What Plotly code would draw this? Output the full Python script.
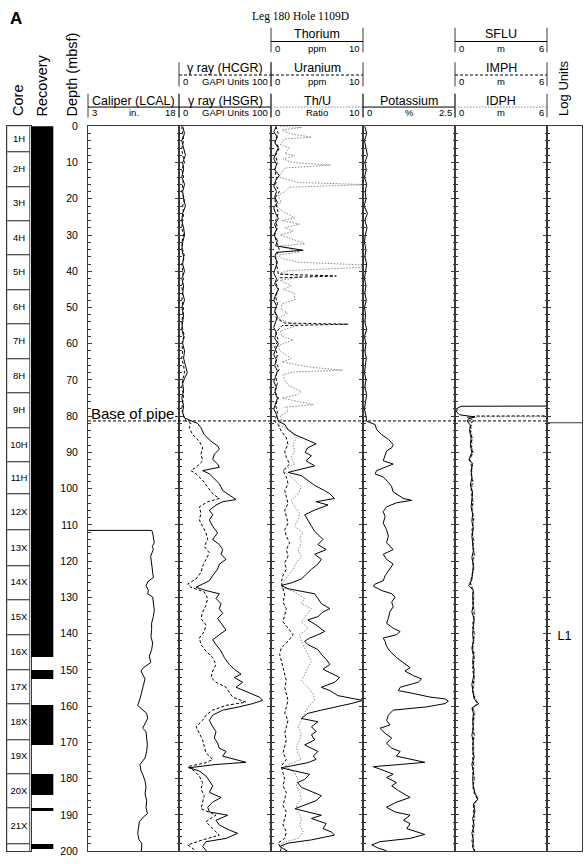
import plotly.graph_objects as go

# ---------------- data ----------------
core_names = ["1H", "2H", "3H", "4H", "5H", "6H", "7H", "8H", "9H", "10H", "11H",
              "12X", "13X", "14X", "15X", "16X", "17X", "18X", "19X", "20X", "21X", ""]
core_top = [0, 7.2, 16.7, 26.2, 35.7, 45.2, 54.7, 64.2, 73.7, 83.2, 92.8,
            101.6, 111.5, 121.3, 130.8, 140.4, 150.0, 159.6, 169.3, 178.8, 188.3, 198.0]
core_bottom = [7.2, 16.7, 26.2, 35.7, 45.2, 54.7, 64.2, 73.7, 83.2, 92.8, 101.6,
               111.5, 121.3, 130.8, 140.4, 150.0, 159.6, 169.3, 178.8, 188.3, 198.0, 207.5]

recovery_top = [0, 150.1, 159.8, 178.8, 188.3, 198.0]
recovery_bottom = [146.6, 152.7, 170.8, 184.7, 188.9, 199.6]

base_of_pipe = 81.3
log_unit_top = 81.8
log_unit_name = "L1"

caliper = [(111.5, 3.0), (111.5, 13.5), (112.2, 13.66), (114.0, 13.77), (114.9, 13.93), (115.9, 13.6),
           (116.8, 13.77), (118.6, 13.33), (120.8, 13.49), (123.1, 13.66), (124.5, 13.77), (125.5, 12.95),
           (126.7, 12.56), (128.1, 12.95), (129.0, 12.84), (129.9, 13.66), (131.7, 13.77), (133.5, 13.93),
           (135.3, 13.77), (137.1, 13.49), (138.9, 13.49), (140.8, 13.38), (142.6, 13.66), (144.4, 13.49),
           (146.2, 13.11), (148.0, 13.33), (149.4, 12.12), (150.3, 11.74), (151.6, 12.12), (152.5, 12.40),
           (154.3, 12.12), (156.2, 11.85), (158.0, 11.57), (159.8, 11.19), (160.7, 11.85), (162.0, 12.67),
           (163.4, 12.84), (164.8, 12.40), (166.1, 12.01), (167.0, 12.56), (168.8, 12.67), (170.7, 12.78),
           (172.5, 12.67), (174.3, 12.40), (176.1, 11.57), (177.9, 11.74), (178.8, 12.01), (180.6, 12.40),
           (182.4, 12.56), (184.2, 12.40), (186.1, 12.67), (187.9, 12.56), (189.7, 12.78), (190.6, 12.12),
           (191.9, 11.46), (193.3, 11.30), (195.1, 11.19), (196.9, 11.41), (197.8, 11.85), (198.6, 11.85),
           (200, 11.8)]

hsgr = [(0, 4), (2, 6), (4, 3), (6, 5), (8, 7), (10, 4), (12, 5), (14, 3), (16, 6), (18, 4), (20, 5), (22, 7),
        (24, 4), (26, 3), (28, 5), (30, 6), (32, 4), (34, 3), (36, 5), (38, 4), (40, 6), (42, 3), (44, 5),
        (46, 4), (48, 6), (50, 3), (52, 5), (54, 4), (56, 3), (58, 5), (60, 4), (62, 6), (64, 5), (66, 7),
        (68, 9), (69.5, 6), (71, 4), (73, 5), (75, 3), (77, 5), (79, 4), (80.5, 6), (81.4, 14),
        (82.0, 20.3), (83.2, 23.9), (85.1, 27.5), (86.9, 34.8), (88.2, 42), (89.1, 43.8), (90.5, 38.4),
        (91.9, 36.6), (93.2, 42), (94.1, 43.8), (95.0, 25.7), (95.9, 33), (97.3, 38.4), (98.6, 43.8),
        (100.5, 47.5), (101.8, 54.7), (103.0, 62), (103.6, 47.5), (104.5, 40.2), (105.9, 33), (107.2, 36.6),
        (108.6, 33), (110.4, 36.6), (112.2, 42), (114.0, 36.6), (115.4, 43.8), (116.8, 47.5), (118.1, 45.7),
        (119.5, 51.1), (120.8, 43.8), (122.2, 42), (124.0, 36.6), (125.4, 33), (126.3, 25.7), (127.2, 18.5),
        (128.1, 29.3), (129.0, 43.8), (130.3, 40.2), (131.7, 45.7), (133.1, 43.8), (134.4, 47.5), (135.8, 42),
        (137.6, 47.5), (139.0, 51.1), (140.3, 43.8), (141.7, 36.6), (143.0, 40.2), (144.8, 45.7), (146.6, 49.3),
        (148.5, 54.7), (149.8, 60.1), (151.2, 67.4), (152.1, 60.1), (153.4, 69.2), (154.8, 62), (156.2, 74.6),
        (157.5, 87.3), (158.4, 90.9), (159.3, 80.1), (160.2, 65.6), (161.1, 47.5), (162.5, 36.6), (163.9, 33),
        (165.7, 36.6), (167.0, 40.2), (168.8, 38.4), (170.2, 42), (171.6, 43.8), (172.5, 51.1), (173.8, 47.5),
        (175.5, 72.8), (176.1, 40.2), (177.0, 11.2), (177.9, 22.1), (179.3, 29.3), (180.6, 33), (182.0, 36.6),
        (183.8, 33), (185.2, 45.7), (186.5, 36.6), (187.9, 31.2), (189.2, 33), (190.1, 52.9), (191.5, 40.2),
        (192.8, 43.8), (194.2, 54.7), (195.1, 63.8), (196.5, 51.1), (197.4, 29.3), (198.7, 25.7), (199.6, 29.3),
        (200, 30)]

hcgr = [(0, 3), (2, 4), (4, 5), (6, 3), (8, 4), (10, 6), (12, 3), (14, 5), (16, 4), (18, 3), (20, 6), (22, 4),
        (24, 5), (26, 4), (28, 3), (30, 5), (32, 3), (34, 4), (36, 6), (38, 3), (40, 4), (42, 5), (44, 3),
        (46, 4), (48, 3), (50, 5), (52, 4), (54, 3), (56, 4), (58, 6), (60, 3), (62, 4), (64, 3), (66, 5),
        (68, 6), (70, 4), (72, 3), (74, 5), (76, 4), (78, 3), (80, 5), (81.4, 8),
        (82.0, 13), (83.2, 11.2), (85.1, 14.9), (86.9, 22.1), (88.7, 25.7), (90.5, 23.9), (92.3, 25.7),
        (94.1, 18.5), (95.0, 13), (95.9, 18.5), (97.7, 25.7), (99.6, 31.2), (101.4, 36.6), (102.7, 43.8),
        (103.6, 31.2), (105.0, 22.1), (106.8, 23.9), (108.6, 22.1), (110.4, 25.7), (112.2, 29.3), (114.0, 31.2),
        (115.9, 27.5), (117.7, 33), (119.5, 29.3), (121.3, 25.7), (123.1, 23.9), (124.9, 18.5), (126.3, 9.4),
        (127.2, 13), (128.5, 27.5), (130.3, 31.2), (132.2, 29.3), (134.0, 25.7), (135.8, 23.9), (137.6, 29.3),
        (139.4, 27.5), (141.2, 22.1), (143.0, 23.9), (144.8, 29.3), (146.6, 36.6), (148.5, 40.2), (150.3, 36.6),
        (152.1, 34.8), (153.4, 40.2), (154.8, 51.1), (156.2, 54.7), (157.5, 58.3), (158.9, 72.8), (159.8, 51.1),
        (161.1, 36.6), (162.5, 29.3), (163.9, 25.7), (165.7, 18.5), (167.5, 22.1), (169.3, 25.7), (171.1, 27.5),
        (172.9, 29.3), (174.7, 36.6), (175.6, 29.3), (176.7, 9.4), (177.9, 16.7), (179.3, 22.1), (181.1, 25.7),
        (182.9, 23.9), (184.7, 27.5), (186.5, 25.7), (188.3, 23.9), (190.1, 40.2), (191.9, 29.3), (193.8, 36.6),
        (195.6, 43.8), (196.9, 25.7), (198.3, 9.4), (199.6, 16.7), (200, 18)]

thorium = [(0, 0.6), (1.5, 0.3), (3, 0.7), (4.5, 0.4), (6, 0.8), (7.5, 0.5), (9, 0.3), (10.5, 0.6), (12, 0.4),
           (13.5, 0.9), (15, 0.5), (16.5, 0.3), (18, 0.6), (19.5, 0.4), (21, 0.7), (22.5, 0.3), (24, 0.5),
           (25.5, 0.8), (27, 0.4), (28.5, 0.6), (30, 0.3), (31.5, 0.7), (33, 0.5), (34.2, 3.5), (34.8, 0.6),
           (36, 0.4), (37.5, 0.7), (39, 0.5), (40.5, 0.3), (42, 0.6), (43.5, 0.4), (45, 0.8), (46.5, 0.5),
           (48, 0.3), (49.5, 0.6), (51, 0.4), (52.5, 0.7), (54, 0.5), (55.5, 0.3), (57, 0.6), (58.5, 0.4),
           (60, 0.8), (61.5, 0.5), (63, 0.3), (64.5, 0.6), (66, 0.4), (67.5, 0.7), (69, 0.5), (70.5, 0.3),
           (72, 0.6), (73.5, 0.4), (75, 0.7), (76.5, 0.5), (78, 0.3), (79.5, 0.6), (81.4, 0.8),
           (82.3, 1.5), (83.7, 1.85), (85.1, 2.6), (86.4, 3.7), (87.6, 4.9), (88.7, 4.0), (90.0, 3.7),
           (90.9, 4.4), (92.3, 3.8), (93.7, 4.75), (94.6, 3.3), (95.5, 1.85), (96.4, 3.3), (97.7, 4.0),
           (99.1, 4.75), (100.5, 5.8), (101.4, 6.4), (102.7, 6.9), (103.6, 4.9), (104.5, 6.2), (105.9, 4.75),
           (107.2, 3.66), (108.6, 4.0), (110.4, 4.4), (111.8, 4.75), (113.1, 5.3), (114.0, 5.65), (115.4, 5.1),
           (116.8, 6.0), (118.1, 4.75), (119.5, 5.47), (120.8, 5.1), (122.2, 4.4), (123.6, 3.84), (124.9, 3.3),
           (126.0, 2.2), (126.7, 1.1), (127.6, 1.85), (128.5, 4.0), (129.0, 4.75), (130.3, 5.1), (131.7, 5.47),
           (133.1, 6.4), (134.0, 5.65), (135.3, 5.1), (136.2, 4.0), (137.6, 4.9), (139.4, 5.83), (140.3, 5.1),
           (141.2, 4.2), (142.1, 3.66), (143.0, 4.0), (144.4, 5.1), (145.7, 5.47), (147.1, 6.0), (148.5, 6.4),
           (149.8, 5.65), (151.2, 6.75), (152.1, 7.46), (153.4, 6.92), (154.8, 5.47), (155.7, 6.4), (157.1, 7.28),
           (158.0, 9.1), (158.4, 10.0), (159.3, 8.7), (160.2, 6.9), (161.1, 5.47), (162.0, 4.0), (163.4, 3.3),
           (164.3, 5.1), (165.7, 4.4), (167.0, 4.9), (167.9, 4.4), (169.3, 4.75), (170.7, 3.66), (172.5, 5.1),
           (173.8, 4.6), (174.7, 4.9), (175.6, 4.0), (176.5, 2.2), (177.0, 1.1), (177.9, 2.6), (178.8, 4.2),
           (180.2, 3.66), (181.1, 2.9), (182.4, 3.3), (183.8, 4.75), (184.7, 5.47), (186.1, 4.9), (187.4, 3.66),
           (188.3, 2.6), (189.2, 4.0), (190.1, 5.47), (191.0, 4.4), (192.4, 6.0), (193.8, 5.65), (194.7, 6.56),
           (195.6, 6.9), (196.9, 4.4), (197.8, 1.85), (198.7, 0.95), (199.6, 1.5), (200, 1.8)]

uranium = [(0, 0.5), (2, 0.8), (4, 0.4), (6, 0.9), (8, 0.5), (10, 0.7), (12, 0.4), (14, 0.6), (16, 0.5),
           (18, 0.9), (20, 0.4), (22, 0.6), (24, 0.8), (26, 0.5), (28, 0.7), (30, 0.4), (32, 0.6), (34, 0.9),
           (36, 0.5), (38, 0.6), (40.8, 0.8), (41.3, 7.1), (41.8, 1.0), (43, 0.5), (45, 0.8), (47, 0.5),
           (49, 0.7), (51, 0.4), (53, 0.6), (54.3, 1.5), (54.6, 8.4), (55.0, 1.2), (57, 0.5), (59, 0.8),
           (61, 0.4), (63, 0.7), (65, 0.5), (67, 0.9), (69, 0.5), (71, 0.7), (73, 0.4), (75, 0.8), (77, 0.5),
           (79, 0.7), (81.4, 0.4),
           (82.3, 0.76), (84.1, 1.12), (86.0, 1.67), (87.8, 1.85), (89.6, 1.49), (91.4, 1.67), (93.2, 2.03),
           (95.0, 1.3), (96.8, 1.67), (98.6, 1.85), (100.5, 1.49), (102.3, 1.67), (104.1, 1.85), (105.9, 1.49),
           (107.7, 1.67), (109.5, 1.85), (111.3, 1.49), (113.1, 1.67), (114.9, 2.03), (116.8, 1.67), (118.6, 1.85),
           (120.4, 1.49), (122.2, 1.67), (124.0, 1.3), (125.8, 1.12), (127.6, 1.3), (129.4, 1.49), (131.3, 1.3),
           (133.1, 1.67), (134.9, 1.49), (136.7, 1.3), (138.5, 1.85), (140.3, 2.4), (142.1, 1.85), (143.9, 1.12),
           (145.7, 0.94), (147.6, 1.12), (149.4, 1.3), (151.2, 1.49), (153.0, 1.67), (154.8, 1.49), (156.6, 1.67),
           (158.4, 1.85), (160.2, 1.67), (162.0, 1.49), (163.9, 1.85), (165.7, 1.67), (167.5, 1.49), (169.3, 1.67),
           (171.1, 1.49), (172.9, 1.3), (174.7, 1.67), (176.5, 1.12), (178.4, 1.3), (180.2, 1.49), (182.0, 1.3),
           (183.8, 1.67), (185.6, 1.49), (187.4, 1.3), (189.2, 1.67), (191.0, 1.49), (192.8, 1.3), (194.7, 1.67),
           (196.5, 1.49), (197.8, 0.76), (199.2, 1.12), (200, 1.0)]

th_u_ratio = [(0.0, 1.0), (0.3, 3.3), (1.0, 1.2), (2.0, 2.0), (3.0, 4.4), (3.5, 1.5), (5.0, 1.0), (6.0, 2.0),
              (7.5, 1.5), (8.0, 2.6), (9.0, 1.3), (10.0, 2.4), (10.7, 6.5), (11.5, 1.5), (13.0, 1.1),
              (14.0, 0.8), (15.5, 3.0), (16.1, 10.5), (16.8, 2.0), (18.0, 1.5), (19.0, 0.8), (21.0, 1.1),
              (22.0, 0.6), (23.5, 1.3), (25.2, 2.6), (26.0, 1.2), (27.0, 3.1), (28.0, 1.5), (29.0, 2.4),
              (30.0, 1.0), (31.0, 2.2), (32.4, 3.7), (33.0, 1.0), (34.7, 3.1), (35.5, 0.8), (36.5, 1.2),
              (37.5, 3.0), (38.3, 10.5), (39.0, 9.5), (39.8, 2.0), (40.5, 1.0), (41.5, 3.3), (42.5, 1.0),
              (44.0, 2.2), (45.0, 1.3), (46.0, 2.5), (47.8, 2.6), (49.0, 1.2), (50.5, 1.1), (51.5, 1.8),
              (53.0, 0.8), (54.0, 1.9), (55.0, 2.8), (56.5, 1.0), (58.0, 1.2), (59.0, 2.4), (60.5, 0.8),
              (62.0, 1.0), (64.1, 2.2), (65.0, 1.2), (66.5, 4.4), (67.3, 7.8), (67.8, 2.5), (68.5, 1.3),
              (70.0, 1.5), (71.5, 1.9), (73.2, 3.3), (74.0, 2.9), (75.0, 1.2), (76.8, 4.6), (77.5, 1.5),
              (78.5, 1.9), (80.0, 1.0), (81.4, 1.2),
              (82.3, 0.76), (84.1, 2.21), (86.0, 2.75), (87.8, 2.4), (89.6, 2.57), (91.4, 2.21), (93.2, 2.57),
              (95.0, 1.3), (96.4, 2.03), (97.7, 2.57), (99.5, 3.3), (101.4, 2.93), (103.2, 2.21), (105.0, 2.57),
              (106.8, 3.12), (108.6, 2.93), (110.4, 2.57), (112.2, 3.48), (113.6, 3.12), (114.9, 3.3),
              (116.8, 2.93), (118.6, 3.3), (120.4, 2.75), (122.2, 2.4), (124.0, 1.85), (125.8, 1.3), (127.2, 1.12),
              (128.5, 2.57), (130.3, 3.66), (131.7, 3.3), (133.1, 4.38), (134.9, 3.84), (136.7, 3.3), (138.5, 4.02),
              (140.3, 3.12), (142.1, 3.3), (143.9, 3.66), (145.7, 4.02), (147.6, 4.38), (149.4, 4.02), (151.2, 3.66),
              (153.0, 3.3), (154.8, 4.02), (156.6, 4.57), (158.4, 4.75), (160.2, 4.02), (162.0, 3.66), (163.9, 3.3),
              (165.7, 2.93), (167.5, 3.3), (169.3, 3.12), (171.1, 2.75), (172.9, 2.93), (174.7, 3.3), (176.5, 1.49),
              (178.4, 2.57), (180.2, 2.93), (182.0, 2.75), (183.8, 3.12), (185.6, 3.3), (187.4, 2.75), (189.2, 2.93),
              (191.0, 3.3), (192.8, 3.12), (194.7, 3.48), (196.5, 2.93), (197.8, 1.12), (199.2, 1.49), (200, 1.6)]

potassium = [(0, 0.05), (2, 0.1), (4, 0.04), (6, 0.08), (8, 0.12), (10, 0.05), (12, 0.09), (14, 0.04),
             (16, 0.1), (18, 0.06), (20, 0.08), (22, 0.03), (24, 0.12), (26, 0.05), (28, 0.11), (30, 0.06),
             (32, 0.04), (34, 0.08), (36, 0.05), (38, 0.1), (40, 0.06), (42, 0.04), (44, 0.08), (46, 0.05),
             (48, 0.09), (50, 0.04), (52, 0.07), (54, 0.05), (56, 0.1), (58, 0.04), (60, 0.08), (62, 0.05),
             (64, 0.09), (66, 0.06), (68, 0.04), (70, 0.08), (72, 0.05), (74, 0.1), (76, 0.06), (78, 0.04),
             (80, 0.08), (81.4, 0.1),
             (82.3, 0.33), (83.7, 0.37), (85.1, 0.51), (86.4, 0.69), (87.8, 0.82), (88.7, 0.78), (89.6, 0.64),
             (90.9, 0.6), (92.3, 0.55), (93.2, 0.82), (94.1, 0.6), (95.0, 0.37), (95.9, 0.33), (96.8, 0.55),
             (98.2, 0.69), (99.5, 0.78), (100.9, 0.82), (101.8, 0.96), (102.7, 1.1), (103.2, 1.32), (103.9, 0.91),
             (105.0, 0.64), (106.3, 0.55), (107.7, 0.6), (109.5, 0.55), (111.3, 0.64), (113.1, 0.69), (114.9, 0.64),
             (116.8, 0.82), (118.1, 0.55), (119.5, 0.64), (120.8, 0.82), (122.2, 0.73), (124.0, 0.6), (125.4, 0.55),
             (126.3, 0.33), (126.9, 0.28), (128.1, 0.51), (129.0, 0.78), (129.9, 0.87), (131.3, 0.78), (132.6, 0.82),
             (134.0, 0.73), (135.8, 0.69), (137.1, 0.64), (138.5, 0.82), (139.4, 1.01), (140.3, 0.91), (141.2, 0.55),
             (142.1, 0.6), (143.5, 0.64), (144.8, 0.73), (146.6, 0.91), (148.0, 1.1), (149.4, 1.28), (150.3, 1.14),
             (151.6, 1.37), (152.5, 1.59), (153.4, 1.5), (154.8, 1.01), (155.7, 0.96), (156.6, 1.41), (157.5, 1.82),
             (158.0, 2.23), (158.6, 2.32), (159.3, 2.23), (160.2, 1.73), (161.1, 0.82), (162.5, 0.69), (163.9, 0.64),
             (165.2, 0.73), (166.1, 0.46), (167.5, 0.6), (168.8, 0.78), (170.2, 0.64), (171.6, 0.78), (172.5, 1.01),
             (173.8, 0.91), (175.5, 1.68), (176.1, 1.01), (176.7, 0.28), (177.9, 0.6), (178.8, 0.82), (179.7, 0.64),
             (181.1, 0.91), (182.0, 0.78), (183.3, 0.96), (185.2, 1.28), (186.5, 0.91), (187.9, 0.64), (189.2, 0.87),
             (190.1, 1.28), (191.5, 1.1), (192.4, 1.28), (193.8, 1.19), (195.4, 1.68), (196.5, 1.28), (197.4, 0.46),
             (198.3, 0.24), (199.2, 0.42), (199.9, 0.64)]

sflu = [(77.2, 6.5), (77.25, 0.4), (77.8, 0.15), (78.8, 0.1), (79.6, 0.3), (80.2, 1.3), (80.6, 0.9), (81.3, 0.8),
        (82.5, 1.0), (84, 0.95), (86, 1.05), (88, 1.0), (90, 1.1), (92, 0.9), (93, 1.15), (95, 1.05), (97, 1.1),
        (99, 1.0), (101, 1.15), (103, 1.1), (105, 1.05), (107, 1.15), (109, 1.1), (111, 1.2), (113, 1.1),
        (115, 1.15), (117, 1.2), (119, 1.1), (121, 1.2), (123, 1.15), (125, 1.1), (126.7, 0.9), (128, 1.2),
        (130, 1.15), (132, 1.2), (134, 1.1), (136, 1.25), (138, 1.2), (140, 1.15), (142, 1.2), (144, 1.1),
        (146, 1.2), (148, 1.15), (150, 1.25), (152, 1.2), (154, 1.1), (156, 1.2), (158, 1.25), (159.3, 1.55),
        (160.5, 1.1), (162, 1.2), (164, 1.15), (166, 1.2), (168, 1.1), (170, 1.2), (172, 1.15), (174, 1.25),
        (176, 1.1), (178, 1.2), (180, 1.15), (182, 1.2), (184, 1.3), (185.6, 1.5), (187, 1.2), (189, 1.3),
        (191, 1.15), (193, 1.25), (195, 1.1), (197, 1.2), (199, 1.15), (200, 1.3)]

imph = [(79.9, 6.5), (79.95, 1.4), (80.3, 0.8), (81.0, 1.2), (82, 1.05), (84, 1.0), (86, 1.1), (88, 1.05),
        (90, 1.15), (92, 0.95), (94, 1.1), (96, 1.05), (98, 1.15), (100, 1.05), (102, 1.1), (104, 1.15),
        (106, 1.1), (108, 1.2), (110, 1.15), (112, 1.1), (114, 1.2), (116, 1.15), (118, 1.25), (120, 1.15),
        (122, 1.2), (124, 1.1), (126, 1.0), (128, 1.15), (130, 1.2), (132, 1.15), (134, 1.25), (136, 1.2),
        (138, 1.15), (140, 1.25), (142, 1.2), (144, 1.15), (146, 1.25), (148, 1.2), (150, 1.15), (152, 1.25),
        (154, 1.2), (156, 1.15), (158, 1.3), (159.3, 1.45), (160.5, 1.15), (162, 1.25), (164, 1.2),
        (166, 1.15), (168, 1.25), (170, 1.15), (172, 1.2), (174, 1.15), (176, 1.2), (178, 1.15), (180, 1.25),
        (182, 1.15), (184, 1.25), (185.6, 1.45), (187, 1.25), (189, 1.2), (191, 1.25), (193, 1.15),
        (195, 1.2), (197, 1.1), (199, 1.2), (200, 1.25)]

idph = [(80.1, 6.5), (80.15, 1.6), (80.6, 0.9), (81.2, 1.0), (82, 1.1), (84, 1.05), (86, 1.15), (88, 1.1),
        (90, 1.2), (92, 1.0), (94, 1.15), (96, 1.1), (98, 1.2), (100, 1.1), (102, 1.15), (104, 1.2),
        (106, 1.15), (108, 1.25), (110, 1.2), (112, 1.15), (114, 1.25), (116, 1.2), (118, 1.3), (120, 1.2),
        (122, 1.25), (124, 1.15), (126, 1.05), (128, 1.2), (130, 1.25), (132, 1.2), (134, 1.3), (136, 1.25),
        (138, 1.2), (140, 1.3), (142, 1.25), (144, 1.2), (146, 1.3), (148, 1.25), (150, 1.2), (152, 1.3),
        (154, 1.25), (156, 1.2), (158, 1.35), (159.3, 1.5), (160.5, 1.2), (162, 1.3), (164, 1.25),
        (166, 1.2), (168, 1.3), (170, 1.2), (172, 1.25), (174, 1.2), (176, 1.25), (178, 1.2), (180, 1.3),
        (182, 1.2), (184, 1.3), (185.6, 1.5), (187, 1.3), (189, 1.25), (191, 1.3), (193, 1.2),
        (195, 1.25), (197, 1.15), (199, 1.25), (200, 1.3)]

depth_ticks = list(range(0, 201, 10))

# ---------------- layout helpers ----------------
W, H = 587, 864
TOP_PX, BOT_PX = 122.0, 857.0
LC = "#3a3a3a"
SANS = "Liberation Sans, Arial, sans-serif"
SERIF = "Liberation Serif, Times New Roman, serif"


def px(x):
    return x / W


def py(y):
    return 1 - y / H


ydom = [py(BOT_PX), py(TOP_PX)]

# (key, left px, right px, x range)
tracks = [
    ("core", 7.3, 30.7, [0, 1]),
    ("rec", 30.7, 53.3, [0, 1]),
    ("cal", 88, 179, [3, 18]),
    ("gr", 179, 271, [0, 100]),
    ("thu", 271, 363, [0, 10]),
    ("k", 363, 455, [0, 2.5]),
    ("res", 455, 547, [0, 6]),
    ("lu", 547, 582, [0, 1]),
]
idx = {t[0]: i + 1 for i, t in enumerate(tracks)}


def ax(name, letter):
    i = idx[name]
    return letter if i == 1 else f"{letter}{i}"


fig = go.Figure()


def unzip(pairs):
    return [p[0] for p in pairs], [p[1] for p in pairs]


def curve(name, pairs, color="black", dash="solid", width=1):
    d, v = unzip(pairs)
    fig.add_trace(go.Scatter(x=v, y=d, mode="lines", xaxis=ax(name, "x"), yaxis=ax(name, "y"),
                             line=dict(color=color, width=width, dash=dash), showlegend=False,
                             hoverinfo="skip"))


DASH = "3px,2px"
DOT = "1.5px,1.5px"
GRAY = "#8a8a8a"

# core boxes
fig.add_trace(go.Bar(x=[0.5] * len(core_top), y=[b - t for t, b in zip(core_top, core_bottom)],
                     base=core_top, width=1, xaxis="x", yaxis="y",
                     marker=dict(color="white", line=dict(color=LC, width=1)),
                     showlegend=False, hoverinfo="skip"))
fig.add_trace(go.Scatter(x=[0.5] * len(core_top),
                         y=[(t + min(b, 200)) / 2 for t, b in zip(core_top, core_bottom)],
                         text=core_names, mode="text", xaxis="x", yaxis="y",
                         textfont=dict(family=SANS, size=9.5, color="black"),
                         showlegend=False, hoverinfo="skip"))
# recovery
fig.add_trace(go.Bar(x=[0.5] * len(recovery_top), y=[b - t for t, b in zip(recovery_top, recovery_bottom)],
                     base=recovery_top, width=1, xaxis="x2", yaxis="y2",
                     marker=dict(color="black", line=dict(width=0)),
                     showlegend=False, hoverinfo="skip"))

curve("cal", caliper)
curve("gr", hcgr, dash=DASH)
curve("gr", hsgr)
curve("thu", th_u_ratio, color=GRAY, dash=DOT)
curve("thu", uranium, dash=DASH)
curve("thu", thorium)
curve("k", potassium)
curve("res", idph, color=GRAY, dash=DOT)
curve("res", imph, dash=DASH)
curve("res", sflu)

# log unit label
fig.add_trace(go.Scatter(x=[0.5], y=[(log_unit_top + 200) / 2], text=[log_unit_name], mode="text",
                         xaxis=ax("lu", "x"), yaxis=ax("lu", "y"),
                         textfont=dict(family=SANS, size=12.5, color="black"),
                         showlegend=False, hoverinfo="skip"))

layout = dict(width=W, height=H, margin=dict(l=0, r=0, t=0, b=0),
              paper_bgcolor="white", plot_bgcolor="white", bargap=0, showlegend=False)

for name, x0, x1, xr in tracks:
    i = idx[name]
    xk = "xaxis" if i == 1 else f"xaxis{i}"
    yk = "yaxis" if i == 1 else f"yaxis{i}"
    show_line = name not in ("rec",)
    layout[xk] = dict(domain=[px(x0), px(x1)], range=xr, anchor=ax(name, "y"),
                      showline=show_line, mirror=True, linecolor=LC, linewidth=1,
                      showticklabels=False, ticks="", showgrid=False, zeroline=False, fixedrange=True)
    ydict = dict(domain=ydom, range=[200, 0], anchor=ax(name, "x"), showgrid=False, zeroline=False,
                 showline=show_line, linecolor=LC, linewidth=1, fixedrange=True, showticklabels=False)
    if name in ("cal", "gr", "thu", "k", "res"):
        ydict.update(mirror="ticks", ticks="inside", ticklen=4, tickcolor=LC, tickwidth=1,
                     tickmode="array", tickvals=depth_ticks,
                     minor=dict(dtick=2, tick0=0, ticks="inside", ticklen=2.5, tickcolor=LC, tickwidth=1))
    elif name == "lu":
        ydict.update(mirror=True, ticks="inside", ticklen=4, tickcolor=LC, tickwidth=1,
                     tickmode="array", tickvals=depth_ticks,
                     minor=dict(dtick=2, tick0=0, ticks="inside", ticklen=2.5, tickcolor=LC, tickwidth=1))
    else:
        ydict.update(mirror=True, ticks="")
    if name == "cal":
        ydict.update(showticklabels=True, ticktext=[str(v) for v in depth_ticks],
                     tickfont=dict(family=SANS, size=10.5, color="black"), ticklabelstandoff=7)
    layout[yk] = ydict

shapes = []
annotations = []

# base of pipe line
shapes.append(dict(type="line", xref="paper", yref=ax("cal", "y"), x0=px(88), x1=px(547),
                   y0=base_of_pipe, y1=base_of_pipe, line=dict(color="black", width=1, dash=DASH)))
annotations.append(dict(text="Base of pipe", xref="paper", yref=ax("cal", "y"), x=px(89), y=base_of_pipe,
                        xanchor="left", yanchor="bottom", showarrow=False, yshift=-3,
                        font=dict(family=SANS, size=15, color="black")))
# log unit boundary
shapes.append(dict(type="line", xref=ax("lu", "x"), yref=ax("lu", "y"), x0=0, x1=1,
                   y0=log_unit_top, y1=log_unit_top, line=dict(color=LC, width=1)))

# header rows: (label y, line y, scale y, bar top, bar bottom)
rows = {1: (28, 36, 43.5, 22, 47), 2: (63, 70, 77, 57, 81.5), 3: (96.5, 102.5, 108.5, 89, 113)}
blocks = [
    (88, 179, 3, "Caliper (LCAL)", "3", "in.", "18", "solid", "black"),
    (179, 271, 3, "γ ray (HSGR)", "0", "GAPI Units", "100", "solid", "black"),
    (179, 271, 2, "γ ray (HCGR)", "0", "GAPI Units", "100", DASH, "black"),
    (271, 363, 1, "Thorium", "0", "ppm", "10", "solid", "black"),
    (271, 363, 2, "Uranium", "0", "ppm", "10", DASH, "black"),
    (271, 363, 3, "Th/U", "0", "Ratio", "10", DOT, GRAY),
    (363, 455, 3, "Potassium", "0", "%", "2.5", "solid", "black"),
    (455, 547, 1, "SFLU", "0", "m", "6", "solid", "black"),
    (455, 547, 2, "IMPH", "0", "m", "6", DASH, "black"),
    (455, 547, 3, "IDPH", "0", "m", "6", DOT, GRAY),
]
for x0, x1, r, label, lo, unit, hi, dash, col in blocks:
    ly, lny, sy, bt, bb = rows[r]
    for xv in (x0, x1):
        shapes.append(dict(type="line", xref="paper", yref="paper", x0=px(xv), x1=px(xv),
                           y0=py(bt), y1=py(bb), line=dict(color=LC, width=1)))
    shapes.append(dict(type="line", xref="paper", yref="paper", x0=px(x0), x1=px(x1),
                       y0=py(lny), y1=py(lny), line=dict(color=col, width=1, dash=dash)))
    annotations.append(dict(text=label, xref="paper", yref="paper", x=px((x0 + x1) / 2), y=py(ly),
                            xanchor="center", yanchor="middle", showarrow=False,
                            font=dict(family=SANS, size=12.5, color="black")))
    annotations.append(dict(text=lo, xref="paper", yref="paper", x=px(x0 + 2), y=py(sy),
                            xanchor="left", yanchor="middle", showarrow=False,
                            font=dict(family=SANS, size=9.5, color="black")))
    annotations.append(dict(text=unit, xref="paper", yref="paper", x=px((x0 + x1) / 2), y=py(sy),
                            xanchor="center", yanchor="middle", showarrow=False,
                            font=dict(family=SANS, size=9.5, color="black")))
    annotations.append(dict(text=hi, xref="paper", yref="paper", x=px(x1 - 1), y=py(sy),
                            xanchor="right", yanchor="middle", showarrow=False,
                            font=dict(family=SANS, size=9.5, color="black")))

# vertical column titles
for text, xc, fs in (("Core", 18, 14.5), ("Recovery", 42, 14.5), ("Depth (mbsf)", 72, 14.5),
                     ("Log Units", 564, 13)):
    annotations.append(dict(text=text, xref="paper", yref="paper", x=px(xc), y=py(114),
                            xanchor="center", yanchor="bottom", textangle=-90, showarrow=False,
                            font=dict(family=SANS, size=fs, color="black")))

annotations.append(dict(text="<b>A</b>", xref="paper", yref="paper", x=px(8), y=py(13),
                        xanchor="left", yanchor="middle", showarrow=False,
                        font=dict(family=SANS, size=17, color="black")))
annotations.append(dict(text="Leg 180 Hole 1109D", xref="paper", yref="paper", x=px(300), y=py(11),
                        xanchor="center", yanchor="middle", showarrow=False,
                        font=dict(family=SERIF, size=11.5, color="black")))

layout["shapes"] = shapes
layout["annotations"] = annotations
fig.update_layout(**layout)
fig.write_html("out.html", config={"displayModeBar": False},
               post_script="document.body.style.margin='0px';document.body.style.overflow='hidden';")
